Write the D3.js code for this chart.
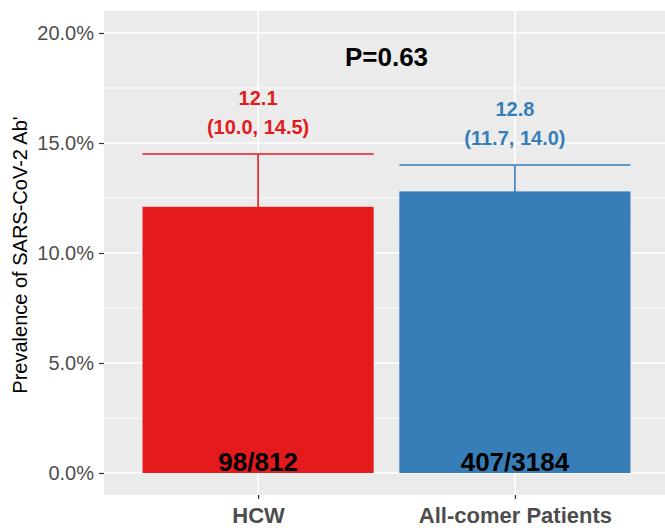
<!DOCTYPE html>
<html>
<head>
<meta charset="utf-8">
<script src="https://cdn.jsdelivr.net/npm/d3@7"></script>
<style>
  body { margin: 0; background: #fff; }
  svg { display: block; font-family: "Liberation Sans", Arial, sans-serif; }
</style>
</head>
<body>
<svg id="chart" width="665" height="530"></svg>
<script>
// data
const groups = ["HCW", "All-comer Patients"];
const prevalence = [12.1, 12.8];
const ciLow = [10.0, 11.7];
const ciHigh = [14.5, 14.0];
const counts = ["98/812", "407/3184"];
const colors = ["#E41A1C", "#377EB8"];
const yTicks = [0, 5, 10, 15, 20];
const yMinor = [2.5, 7.5, 12.5, 17.5];
const pLabel = "P=0.63";

const svg = d3.select("#chart");
const panel = { left: 104, right: 669, top: 11, bottom: 495 };

const x = d3.scalePoint()
  .domain(groups)
  .range([panel.left, panel.right])
  .padding(0.6);
const step = x.step();
const barW = step * 0.9;

const y = d3.scaleLinear()
  .domain([-1, 21])
  .range([panel.bottom, panel.top]);

// panel background
svg.append("rect")
  .attr("x", panel.left).attr("y", panel.top)
  .attr("width", panel.right - panel.left)
  .attr("height", panel.bottom - panel.top)
  .attr("fill", "#EBEBEB");

// grid
const grid = svg.append("g");
grid.selectAll(".minor").data(yMinor).enter().append("line")
  .attr("x1", panel.left).attr("x2", panel.right)
  .attr("y1", d => y(d)).attr("y2", d => y(d))
  .attr("stroke", "#fff").attr("stroke-width", 0.8);
grid.selectAll(".major").data(yTicks).enter().append("line")
  .attr("x1", panel.left).attr("x2", panel.right)
  .attr("y1", d => y(d)).attr("y2", d => y(d))
  .attr("stroke", "#fff").attr("stroke-width", 1.6);
grid.selectAll(".vx").data(groups).enter().append("line")
  .attr("x1", d => x(d)).attr("x2", d => x(d))
  .attr("y1", panel.top).attr("y2", panel.bottom)
  .attr("stroke", "#fff").attr("stroke-width", 1.6);

// error bars (drawn under the bars)
const eb = svg.append("g");
groups.forEach((g, i) => {
  const cx = x(g);
  eb.append("line")
    .attr("x1", cx - barW / 2).attr("x2", cx + barW / 2)
    .attr("y1", y(ciHigh[i])).attr("y2", y(ciHigh[i]))
    .attr("stroke", colors[i]).attr("stroke-width", 1.6);
  eb.append("line")
    .attr("x1", cx - barW / 2).attr("x2", cx + barW / 2)
    .attr("y1", y(ciLow[i])).attr("y2", y(ciLow[i]))
    .attr("stroke", colors[i]).attr("stroke-width", 1.6);
  eb.append("line")
    .attr("x1", cx).attr("x2", cx)
    .attr("y1", y(ciHigh[i])).attr("y2", y(ciLow[i]))
    .attr("stroke", colors[i]).attr("stroke-width", 1.6);
});

// bars
svg.append("g").selectAll("rect").data(groups).enter().append("rect")
  .attr("x", d => x(d) - barW / 2)
  .attr("width", barW)
  .attr("y", (d, i) => y(prevalence[i]))
  .attr("height", (d, i) => y(0) - y(prevalence[i]))
  .attr("fill", (d, i) => colors[i]);

// estimate + CI labels
groups.forEach((g, i) => {
  const base = y(ciHigh[i]);
  const t = svg.append("text")
    .attr("text-anchor", "middle")
    .attr("font-weight", "bold")
    .attr("font-size", 20)
    .attr("fill", colors[i]);
  t.append("tspan").attr("x", x(g)).attr("y", base - 49)
    .text(prevalence[i].toFixed(1));
  t.append("tspan").attr("x", x(g)).attr("y", base - 20)
    .text(`(${ciLow[i].toFixed(1)}, ${ciHigh[i].toFixed(1)})`);
});

// counts at the bottom of the bars
svg.append("g").selectAll("text").data(groups).enter().append("text")
  .attr("x", d => x(d))
  .attr("y", y(0) - 2)
  .attr("text-anchor", "middle")
  .attr("font-weight", "bold")
  .attr("font-size", 26)
  .attr("fill", "#000")
  .text((d, i) => counts[i]);

// p value between the groups
svg.append("text")
  .attr("x", (x(groups[0]) + x(groups[1])) / 2)
  .attr("y", y(18.9) + 9)
  .attr("text-anchor", "middle")
  .attr("font-weight", "bold")
  .attr("font-size", 26)
  .attr("fill", "#000")
  .text(pLabel);

// y axis
const yAxis = svg.append("g")
  .attr("transform", `translate(${panel.left},0)`)
  .call(d3.axisLeft(y).tickValues(yTicks).tickSize(5).tickPadding(5)
    .tickFormat(d => d3.format(".1f")(d) + "%"));
yAxis.select(".domain").remove();
yAxis.selectAll(".tick line").attr("stroke", "#333").attr("stroke-width", 1.2);
yAxis.selectAll(".tick text")
  .attr("fill", "#4D4D4D")
  .attr("font-size", 20)
  .attr("font-family", "Liberation Sans, Arial, sans-serif");

// x axis
const xAxis = svg.append("g")
  .attr("transform", `translate(0,${panel.bottom})`)
  .call(d3.axisBottom(x).tickSize(4).tickPadding(8));
xAxis.select(".domain").remove();
xAxis.selectAll(".tick line").attr("stroke", "#333").attr("stroke-width", 1.2);
xAxis.selectAll(".tick text")
  .attr("fill", "#4D4D4D")
  .attr("font-size", 22)
  .attr("font-weight", "bold")
  .attr("font-family", "Liberation Sans, Arial, sans-serif");

// y title
svg.append("text")
  .attr("transform", `translate(27,${(y(0) + y(20)) / 2 + 2}) rotate(-90)`)
  .attr("text-anchor", "middle")
  .attr("font-size", 20)
  .attr("fill", "#000")
  .text("Prevalence of SARS-CoV-2 Ab'");
</script>
</body>
</html>
